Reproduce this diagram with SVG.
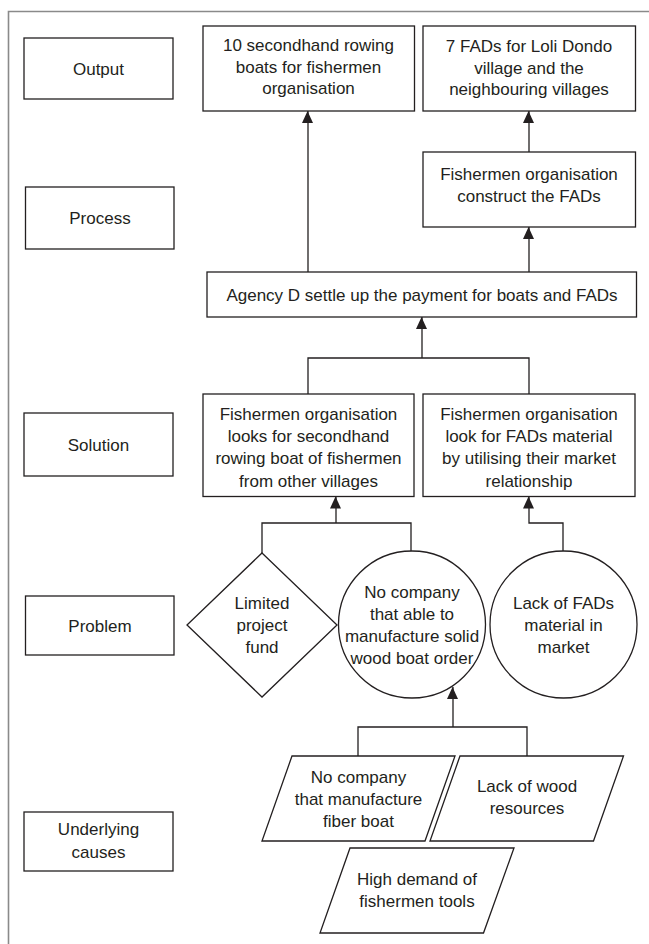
<svg xmlns="http://www.w3.org/2000/svg" width="649" height="944" viewBox="0 0 649 944">
<defs>
<style>
.b{fill:#fff;stroke:#231f20;stroke-width:1.3}
.c{fill:none;stroke:#231f20;stroke-width:1.3}
text{font-family:"Liberation Sans",Arial,sans-serif;font-size:17px;fill:#231f20;text-anchor:middle}
</style>
<marker id="ah" viewBox="0 0 12 11" refX="12" refY="6" markerWidth="12" markerHeight="11" markerUnits="userSpaceOnUse" orient="auto">
<path d="M0,0 L12,6 L0,12 Z" fill="#231f20" transform="scale(1,0.92)"/>
</marker>
</defs>
<rect width="649" height="944" fill="#fff"/>
<path d="M8.5,944 V11.5 H649" fill="none" stroke="#8a8a8a" stroke-width="1.6"/>

<g id="lbl-output"><rect class="b" x="24" y="38" width="149" height="61"/><text x="98.5" y="74.5">Output</text></g>
<g id="lbl-process"><rect class="b" x="25.5" y="187" width="148.5" height="62"/><text x="100" y="224">Process</text></g>
<g id="lbl-solution"><rect class="b" x="24" y="413" width="149" height="63"/><text x="98.5" y="450.5">Solution</text></g>
<g id="lbl-problem"><rect class="b" x="25.5" y="596" width="148.5" height="59"/><text x="100" y="631.5">Problem</text></g>
<g id="lbl-causes"><rect class="b" x="24" y="812" width="149" height="59"/><text x="98.5" y="835">Underlying</text><text x="98.5" y="858">causes</text></g>

<g id="out-boats"><rect class="b" x="203" y="26" width="211.5" height="85"/><text x="308.5" y="51">10 secondhand rowing</text><text x="308.5" y="72.5">boats for fishermen</text><text x="308.5" y="94">organisation</text></g>
<g id="out-fads"><rect class="b" x="423" y="26" width="212.5" height="85"/><text x="529" y="52">7 FADs for Loli Dondo</text><text x="529" y="73.5">village and the</text><text x="529" y="95">neighbouring villages</text></g>
<g id="proc-construct"><rect class="b" x="423" y="152" width="212.5" height="75"/><text x="529" y="180">Fishermen organisation</text><text x="529" y="202">construct the FADs</text></g>
<g id="proc-agency"><rect class="b" x="207" y="272" width="429.5" height="45"/><text x="422" y="300.5">Agency D settle up the payment for boats and FADs</text></g>
<g id="sol-boats"><rect class="b" x="203" y="394" width="211" height="102.5"/><text x="308.5" y="420">Fishermen organisation</text><text x="308.5" y="442">looks for secondhand</text><text x="308.5" y="464">rowing boat of fishermen</text><text x="308.5" y="486.5">from other villages</text></g>
<g id="sol-fads"><rect class="b" x="423" y="394" width="212" height="102.5"/><text x="529" y="420">Fishermen organisation</text><text x="529" y="442">look for FADs material</text><text x="529" y="464">by utilising their market</text><text x="529" y="486.5">relationship</text></g>
<g id="prob-fund"><polygon class="b" points="262,553 337,625 262,697 187,625"/><text x="262" y="609">Limited</text><text x="262" y="631">project</text><text x="262" y="653">fund</text></g>
<g id="prob-company"><ellipse class="b" cx="412" cy="624.5" rx="73.5" ry="73.5"/><text x="412" y="598">No company</text><text x="412" y="620">that able to</text><text x="412" y="642">manufacture solid</text><text x="412" y="664">wood boat order</text></g>
<g id="prob-material"><ellipse class="b" cx="563.5" cy="624.5" rx="73.5" ry="73.5"/><text x="563.5" y="609">Lack of FADs</text><text x="563.5" y="631">material in</text><text x="563.5" y="653">market</text></g>
<g id="cause-fiber"><polygon class="b" points="292,756 455,756 425,841 262,841"/><text x="358.5" y="783">No company</text><text x="358.5" y="805">that manufacture</text><text x="358.5" y="826.5">fiber boat</text></g>
<g id="cause-wood"><polygon class="b" points="460,756 623.5,756 593.5,841 430,841"/><text x="527" y="792">Lack of wood</text><text x="527" y="814">resources</text></g>
<g id="cause-demand"><polygon class="b" points="350,848 514,848 483.5,933 320,933"/><text x="417" y="885">High demand of</text><text x="417" y="907">fishermen tools</text></g>

<g id="connectors">
<path class="c" d="M308,272 V111" marker-end="url(#ah)"/>
<path class="c" d="M529,272 V227" marker-end="url(#ah)"/>
<path class="c" d="M529,152 V111" marker-end="url(#ah)"/>
<path class="c" d="M308,394 V358 H529 V394"/>
<path class="c" d="M422,358 V317" marker-end="url(#ah)"/>
<path class="c" d="M262,553 V523 H411 V551"/>
<path class="c" d="M336,523 V496.5" marker-end="url(#ah)"/>
<path class="c" d="M563,551 V523 H529 V496.5" marker-end="url(#ah)"/>
<path class="c" d="M358,756 V727 H527 V756"/>
<path class="c" d="M453,727 V687" marker-end="url(#ah)"/>
</g>
</svg>
